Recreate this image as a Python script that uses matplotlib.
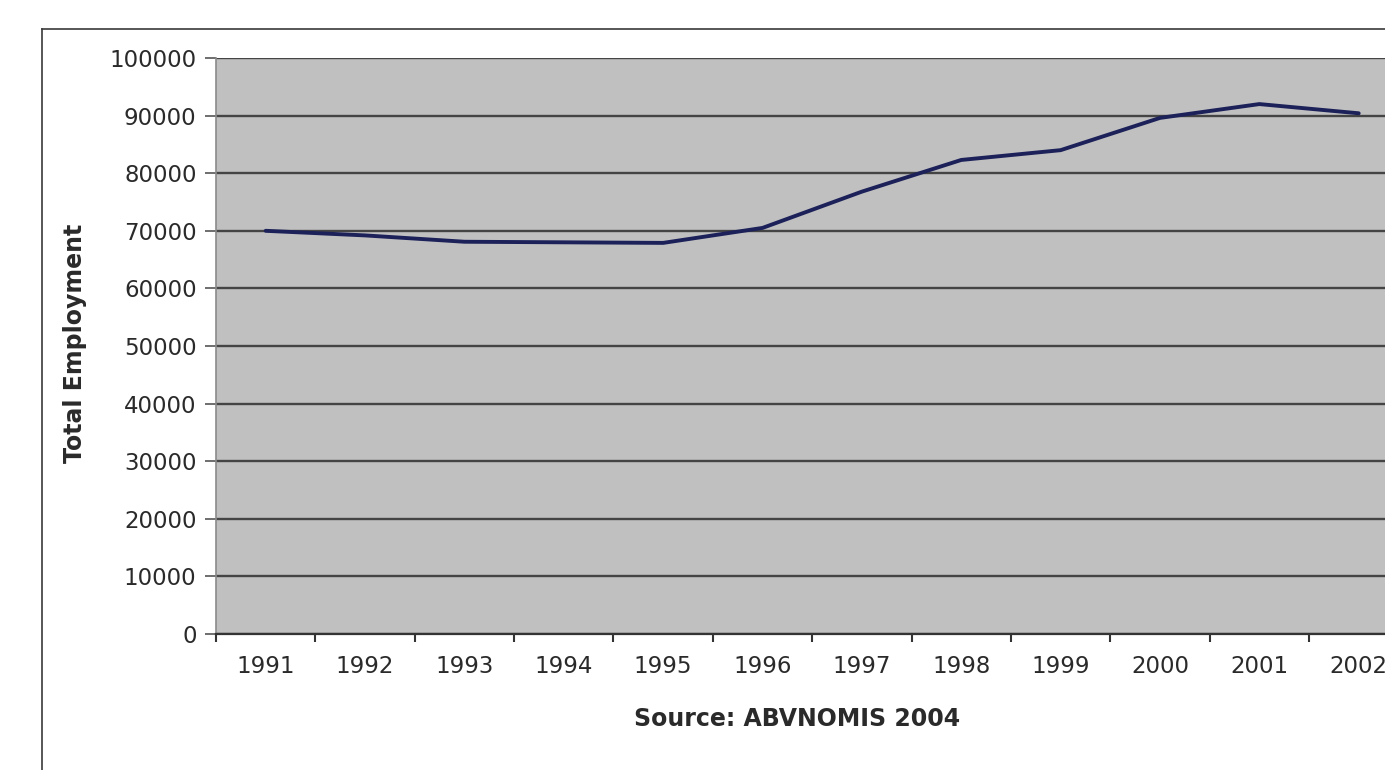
import matplotlib
matplotlib.use("Agg")
import matplotlib.pyplot as plt
from matplotlib.lines import Line2D
from matplotlib.ticker import FixedLocator, NullFormatter, FixedFormatter

years = ["1991", "1992", "1993", "1994", "1995", "1996", "1997", "1998", "1999", "2000", "2001", "2002"]
employment = [70000, 69200, 68100, 68000, 67900, 70500, 76800, 82300, 84000, 89600, 92000, 90400]
y_ticks = [0, 10000, 20000, 30000, 40000, 50000, 60000, 70000, 80000, 90000, 100000]

W, H = 1385, 770
fig = plt.figure(figsize=(W / 100, H / 100), dpi=100)
fig.patch.set_facecolor("white")

# outer frame (cropped on right and bottom)
fx = 42 / W
fy = 1 - 29 / H
fig.add_artist(Line2D([fx, fx], [0, fy], transform=fig.transFigure, color="#3a3a3a", lw=1.2))
fig.add_artist(Line2D([fx, 1.0], [fy, fy], transform=fig.transFigure, color="#3a3a3a", lw=1.2))

left_px, top_px, bottom_px = 216, 58, 634
step = 99.2
right_px = 218 + 12 * step
ax = fig.add_axes([left_px / W, 1 - bottom_px / H, (right_px - left_px) / W, (bottom_px - top_px) / H])
ax.set_facecolor("#c0c0c0")

x = list(range(len(years)))
ax.plot(x, employment, color="#1c2159", lw=2.8, solid_capstyle="round", solid_joinstyle="round", zorder=3)

ax.set_xlim(-0.5, len(years) - 0.5)
ax.set_ylim(0, 100000)

ax.yaxis.set_major_locator(FixedLocator(y_ticks))
ax.set_yticklabels([str(v) for v in y_ticks])
ax.yaxis.grid(True, color="#444444", lw=1.7)
ax.set_axisbelow(True)

ax.xaxis.set_major_locator(FixedLocator([i - 0.5 for i in range(len(years) + 1)]))
ax.xaxis.set_major_formatter(NullFormatter())
ax.xaxis.set_minor_locator(FixedLocator(x))
ax.xaxis.set_minor_formatter(FixedFormatter(years))
ax.tick_params(axis="x", which="minor", length=0, pad=15, labelsize=16.5, labelcolor="#2a2a2a")
ax.tick_params(axis="x", which="major", length=6, width=1.5, color="#333333", direction="out")
ax.tick_params(axis="y", which="major", length=8, width=1.2, color="#555555", pad=6,
               labelsize=16.5, labelcolor="#2a2a2a")

for side in ["top", "right"]:
    ax.spines[side].set_visible(False)
ax.spines["left"].set_color("#8a8a8a")
ax.spines["left"].set_linewidth(1.2)
ax.spines["bottom"].set_color("#333333")
ax.spines["bottom"].set_linewidth(1.6)

fig.text(75 / W, 1 - 343 / H, "Total Employment", rotation=90, ha="center", va="center",
         fontsize=17, fontweight="bold", color="#2a2a2a")
fig.text(797 / W, 1 - 719 / H, "Source: ABVNOMIS 2004", ha="center", va="center",
         fontsize=17, fontweight="bold", color="#2a2a2a")

fig.savefig("out.png", dpi=100, facecolor="white")
